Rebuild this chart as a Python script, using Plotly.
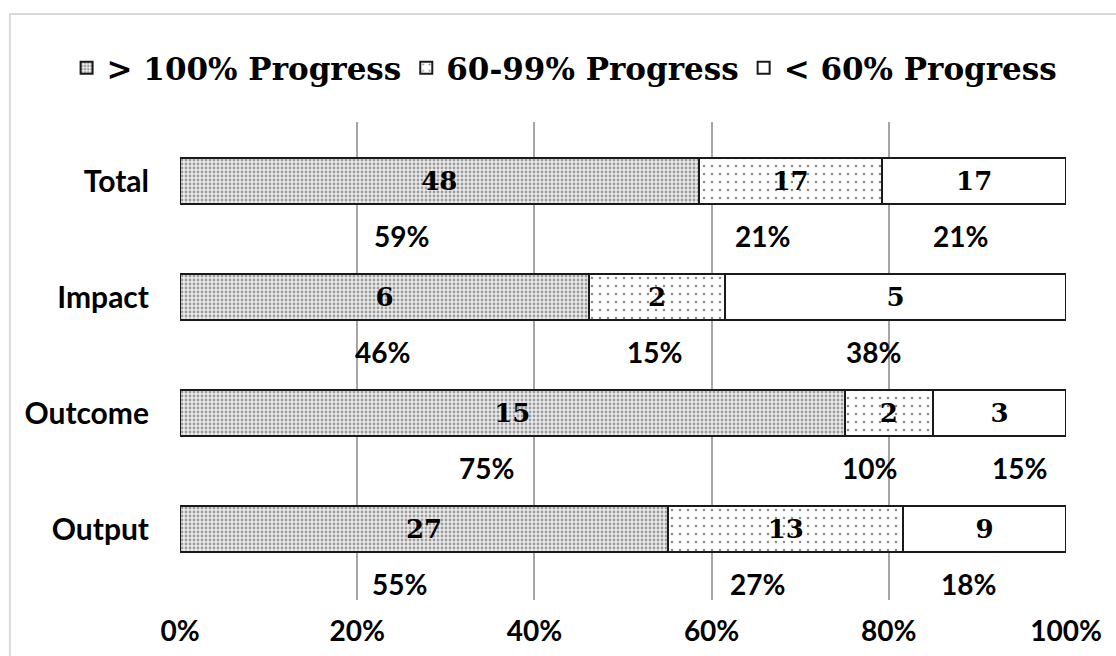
import plotly.graph_objects as go

categories = ["Output", "Outcome", "Impact", "Total"]
series_names = ["> 100% Progress", "60-99% Progress", "< 60% Progress"]
over_100 = [27, 15, 6, 48]
p60_99 = [13, 2, 2, 17]
under_60 = [9, 3, 5, 17]
tick_vals = [0, 20, 40, 60, 80, 100]
tick_text = ["0%", "20%", "40%", "60%", "80%", "100%"]

counts = [over_100, p60_99, under_60]
totals = [sum(v) for v in zip(*counts)]
pcts = [[c / t * 100 for c, t in zip(s, totals)] for s in counts]

# horizontal nudges (px) of the percentage labels relative to segment centres
pct_label_nudge_px = [
    [-25, -26, -2, -38],
    [-28, -19, -3, -28],
    [-16, 20, -22, -14],
]

patterns = [
    dict(shape=".", size=4, solidity=0.4, fgcolor="#9c9c9c", bgcolor="#ececec", fillmode="replace"),
    dict(shape=".", size=8, solidity=0.08, fgcolor="#8a8a8a", bgcolor="#ffffff", fillmode="replace"),
    dict(shape="", bgcolor="#ffffff"),
]

serif = "DejaVu Serif"
sans = "Lato"

fig = go.Figure()
for name, cnt, pc, pat in zip(series_names, counts, pcts, patterns):
    fig.add_trace(go.Bar(
        y=categories, x=pc, orientation="h", name=name,
        text=[str(c) for c in cnt], textposition="inside", insidetextanchor="middle",
        textangle=0, constraintext="none",
        textfont=dict(family=serif, size=26, color="black", weight="bold"),
        marker=dict(color="#ffffff", line=dict(color="#1a1a1a", width=2), pattern=pat),
        width=0.4, hoverinfo="skip",
    ))

annotations = []
for si, pc in enumerate(pcts):
    start = [sum(p[i] for p in pcts[:si]) for i in range(len(categories))]
    for ci, cat in enumerate(categories):
        annotations.append(dict(
            x=start[ci] + pc[ci] / 2, y=cat, xref="x", yref="y",
            text=f"{round(pc[ci])}%", showarrow=False,
            xshift=pct_label_nudge_px[si][ci], yshift=-55,
            font=dict(family=sans, size=28, color="black", weight="bold"),
        ))

fig.update_layout(
    width=1116, height=656,
    margin=dict(l=180, r=50, t=122, b=56),
    paper_bgcolor="white", plot_bgcolor="white",
    barmode="stack", bargap=0.6,
    showlegend=True,
    legend=dict(orientation="h", xref="paper", x=-0.128, xanchor="left",
                yref="paper", y=1.113, yanchor="middle",
                traceorder="normal",
                font=dict(family=serif, size=31, color="black", weight="bold"),
                itemwidth=30, tracegroupgap=0, bgcolor="rgba(0,0,0,0)"),
    annotations=annotations,
    shapes=[dict(type="rect", xref="paper", yref="paper", x0=-0.192, x1=1.2, y0=-0.3, y1=1.226,
                 line=dict(color="#d9d9d9", width=2), fillcolor="rgba(0,0,0,0)", layer="below")],
)
fig.update_xaxes(range=[0, 100], tickvals=tick_vals, ticktext=tick_text,
                 showgrid=True, gridcolor="#a6a6a6", gridwidth=1.5, zeroline=False,
                 showline=False, ticks="", ticklabelstandoff=12, automargin=False,
                 tickfont=dict(family=sans, size=28, color="black", weight="bold"))
fig.update_yaxes(type="category", categoryorder="array", categoryarray=categories,
                 range=[-0.61, 3.51], showgrid=False, zeroline=False, showline=False,
                 ticks="", ticklabelstandoff=30, automargin=False,
                 tickfont=dict(family=sans, size=30, color="black", weight="bold"))

fig.write_html("out.html", config={"displayModeBar": False},
               post_script="document.body.style.margin='0';document.body.style.overflow='hidden';")
